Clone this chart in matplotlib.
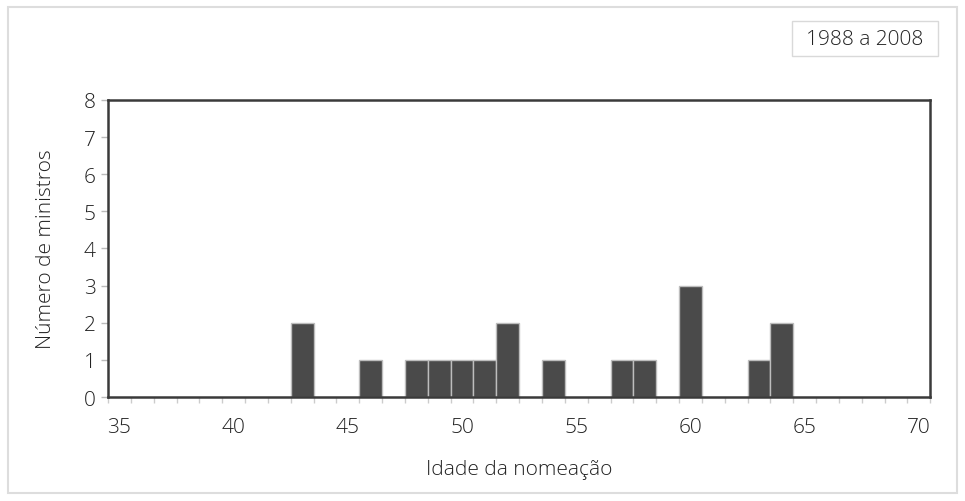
import matplotlib
matplotlib.use("Agg")
import matplotlib.pyplot as plt
from matplotlib.patches import Rectangle
from matplotlib.ticker import MultipleLocator

# ages at appointment and number of ministers
ages = [43, 46, 48, 49, 50, 51, 52, 54, 57, 58, 60, 63, 64]
counts = [2, 1, 1, 1, 1, 1, 2, 1, 1, 1, 3, 1, 2]
x_ticks = [35, 40, 45, 50, 55, 60, 65, 70]
y_ticks = [0, 1, 2, 3, 4, 5, 6, 7, 8]
period = "1988 a 2008"

plt.rcParams['font.family'] = ['Open Sans', 'DejaVu Sans']
plt.rcParams['font.weight'] = 'light'
plt.rcParams['axes.labelweight'] = 'light'

fig = plt.figure(figsize=(9.65, 5.02), dpi=100)
ax = fig.add_axes([0.112, 0.207, 0.852, 0.592])

ax.bar(ages, counts, width=1.0, color="#4a4a4a", edgecolor="#bdbdbd",
       linewidth=1.0, zorder=2)

ax.set_xlim(34.5, 70.5)
ax.set_ylim(0, 8)
ax.set_xticks(x_ticks)
ax.xaxis.set_minor_locator(MultipleLocator(1, offset=0.5))
ax.set_yticks(y_ticks)

ax.tick_params(axis='x', which='major', length=0, pad=14, labelsize=15,
               labelcolor="#222222")
ax.tick_params(axis='x', which='minor', length=4, width=1, color="#cccccc")
ax.tick_params(axis='y', which='major', length=5, width=1, color="#bbbbbb",
               labelsize=15, labelcolor="#222222", pad=4)

for s in ax.spines.values():
    s.set_color("#3a3a3a")
    s.set_linewidth(1.8)

ax.set_xlabel("Idade da nomeação", fontsize=15, color="#222222", labelpad=16)
ax.set_ylabel("Número de ministros", fontsize=15, color="#222222", labelpad=20)

# legend-like box with the period
fig.patches.append(Rectangle((0.8207, 0.8865), 0.1513, 0.0697,
                             transform=fig.transFigure, facecolor='white',
                             edgecolor='#d9d9d9', linewidth=1))
fig.text(0.8964, 0.9203, period, fontsize=15, color="#222222",
         ha='center', va='center')

# outer frame
fig.patches.append(Rectangle((0.008, 0.016), 0.984, 0.968,
                             transform=fig.transFigure, fill=False,
                             edgecolor="#dddddd", linewidth=1.5))

fig.savefig("out.png", dpi=100)
